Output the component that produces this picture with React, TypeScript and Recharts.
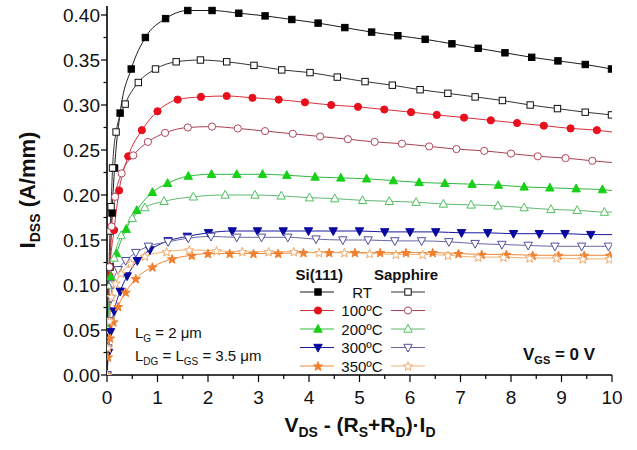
import React from "react";
import { LineChart, Line, XAxis, YAxis } from "recharts";

type Pt = [number, number];

// I_DSS vs V_DS - (Rs+Rd)*Id, Si(111) (filled) and sapphire (open)
const siRT: Pt[] = [[0, 0], [0.03, 0.06], [0.06, 0.12], [0.1, 0.18], [0.15, 0.23], [0.26, 0.291], [0.48, 0.34], [0.76, 0.375], [1.16, 0.396], [1.6, 0.405], [2.08, 0.405], [2.61, 0.402], [3.13, 0.399], [3.66, 0.395], [4.18, 0.391], [4.71, 0.386], [5.24, 0.381], [5.76, 0.377], [6.3, 0.373], [6.83, 0.368], [7.35, 0.363], [7.88, 0.358], [8.41, 0.353], [8.93, 0.349], [9.47, 0.345], [9.99, 0.34]];
const saRT: Pt[] = [[0, 0], [0.02, 0.06], [0.04, 0.12], [0.06, 0.16], [0.08, 0.187], [0.11, 0.23], [0.18, 0.27], [0.36, 0.301], [0.62, 0.325], [0.96, 0.34], [1.37, 0.348], [1.85, 0.35], [2.37, 0.348], [2.91, 0.344], [3.46, 0.339], [4.02, 0.336], [4.56, 0.331], [5.11, 0.326], [5.65, 0.322], [6.2, 0.317], [6.75, 0.313], [7.29, 0.309], [7.83, 0.305], [8.38, 0.3], [8.92, 0.296], [9.47, 0.292], [9.99, 0.289]];
const si100: Pt[] = [[0, 0], [0.02, 0.05], [0.05, 0.11], [0.14, 0.161], [0.24, 0.205], [0.42, 0.243], [0.69, 0.272], [1.0, 0.293], [1.4, 0.306], [1.86, 0.309], [2.37, 0.31], [2.88, 0.308], [3.4, 0.306], [3.92, 0.303], [4.44, 0.3], [4.97, 0.298], [5.49, 0.295], [6.02, 0.292], [6.53, 0.289], [7.07, 0.286], [7.6, 0.283], [8.12, 0.28], [8.65, 0.277], [9.18, 0.274], [9.7, 0.272], [10, 0.27]];
const sa100: Pt[] = [[0, 0], [0.02, 0.06], [0.05, 0.12], [0.09, 0.165], [0.16, 0.198], [0.29, 0.224], [0.52, 0.244], [0.81, 0.259], [1.15, 0.269], [1.6, 0.275], [2.08, 0.276], [2.59, 0.274], [3.13, 0.271], [3.68, 0.268], [4.22, 0.265], [4.77, 0.262], [5.3, 0.259], [5.84, 0.257], [6.38, 0.254], [6.92, 0.251], [7.47, 0.249], [8.0, 0.246], [8.53, 0.243], [9.08, 0.241], [9.61, 0.238], [10, 0.236]];
const si200: Pt[] = [[0, 0], [0.02, 0.05], [0.07, 0.109], [0.19, 0.135], [0.38, 0.162], [0.59, 0.183], [0.9, 0.203], [1.2, 0.213], [1.61, 0.221], [2.07, 0.223], [2.57, 0.223], [3.08, 0.223], [3.56, 0.222], [4.12, 0.22], [4.63, 0.219], [5.14, 0.218], [5.67, 0.216], [6.18, 0.214], [6.69, 0.213], [7.23, 0.212], [7.75, 0.211], [8.26, 0.209], [8.77, 0.208], [9.29, 0.207], [9.81, 0.206], [10, 0.205]];
const sa200: Pt[] = [[0, 0], [0.02, 0.05], [0.06, 0.1], [0.14, 0.13], [0.28, 0.155], [0.5, 0.174], [0.75, 0.186], [1.13, 0.193], [1.71, 0.198], [2.34, 0.2], [2.93, 0.2], [3.45, 0.199], [4.01, 0.197], [4.51, 0.196], [5.06, 0.194], [5.59, 0.193], [6.12, 0.192], [6.66, 0.19], [7.21, 0.189], [7.74, 0.188], [8.26, 0.186], [8.79, 0.184], [9.31, 0.183], [9.85, 0.181], [10, 0.181]];
const si300: Pt[] = [[0, 0], [0.03, 0.025], [0.07, 0.048], [0.14, 0.071], [0.26, 0.093], [0.4, 0.11], [0.6, 0.127], [0.85, 0.139], [1.21, 0.149], [1.59, 0.154], [2.01, 0.158], [2.48, 0.16], [2.98, 0.16], [3.49, 0.16], [3.99, 0.16], [4.48, 0.16], [5.0, 0.16], [5.5, 0.159], [6.0, 0.159], [6.51, 0.159], [7.02, 0.158], [7.54, 0.158], [8.05, 0.157], [8.56, 0.157], [9.07, 0.157], [9.58, 0.156], [10, 0.156]];
const sa300: Pt[] = [[0, 0], [0.02, 0.03], [0.05, 0.06], [0.08, 0.085], [0.11, 0.101], [0.22, 0.117], [0.37, 0.127], [0.57, 0.136], [0.82, 0.143], [1.21, 0.148], [1.61, 0.152], [2.06, 0.154], [2.57, 0.153], [3.06, 0.153], [3.58, 0.153], [4.14, 0.151], [4.67, 0.15], [5.17, 0.15], [5.7, 0.149], [6.23, 0.149], [6.77, 0.148], [7.29, 0.146], [7.82, 0.145], [8.34, 0.144], [8.87, 0.143], [9.4, 0.143], [9.93, 0.143]];
const si350: Pt[] = [[0, 0], [0.02, 0.02], [0.06, 0.041], [0.125, 0.059], [0.22, 0.076], [0.37, 0.092], [0.57, 0.107], [0.9, 0.12], [1.29, 0.129], [1.68, 0.133], [2.0, 0.135], [2.43, 0.135], [2.9, 0.135], [3.39, 0.135], [3.89, 0.136], [4.4, 0.136], [4.91, 0.136], [5.41, 0.136], [5.92, 0.136], [6.45, 0.136], [6.96, 0.135], [7.42, 0.134], [7.91, 0.134], [8.43, 0.133], [8.94, 0.133], [9.45, 0.133], [9.96, 0.133]];
const sa350: Pt[] = [[0, 0], [0.02, 0.03], [0.05, 0.06], [0.09, 0.087], [0.17, 0.102], [0.28, 0.113], [0.47, 0.124], [0.75, 0.132], [1.18, 0.137], [1.63, 0.139], [2.17, 0.138], [2.68, 0.137], [3.2, 0.137], [3.7, 0.137], [4.2, 0.136], [4.7, 0.136], [5.2, 0.135], [5.72, 0.134], [6.25, 0.134], [6.75, 0.133], [7.35, 0.131], [7.85, 0.131], [8.37, 0.13], [8.9, 0.13], [9.42, 0.129], [9.95, 0.129]];

const tempLabels = ["RT", "100ºC", "200ºC", "300ºC", "350ºC"];
const xTicks = [0, 0.5, 1, 1.5, 2, 2.5, 3, 3.5, 4, 4.5, 5, 5.5, 6, 6.5, 7, 7.5, 8, 8.5, 9, 9.5, 10];
const yTicks = [0, 0.025, 0.05, 0.075, 0.1, 0.125, 0.15, 0.175, 0.2, 0.225, 0.25, 0.275, 0.3, 0.325, 0.35, 0.375, 0.4];

const FONT = "'Liberation Sans', Arial, Helvetica, sans-serif";

type Shape = "square" | "circle" | "up" | "down" | "star";

interface Series {
  key: string;
  pts: Pt[];
  shape: Shape;
  open: boolean;
  color: string;
  line: string;
}

const series: Series[] = [
  { key: "siRT", pts: siRT, shape: "square", open: false, color: "#000000", line: "#1a1a1a" },
  { key: "saRT", pts: saRT, shape: "square", open: true, color: "#111111", line: "#333333" },
  { key: "si100", pts: si100, shape: "circle", open: false, color: "#e8101c", line: "#d8303a" },
  { key: "sa100", pts: sa100, shape: "circle", open: true, color: "#b04858", line: "#a84050" },
  { key: "si200", pts: si200, shape: "up", open: false, color: "#18d018", line: "#30b840" },
  { key: "sa200", pts: sa200, shape: "up", open: true, color: "#50c060", line: "#60b870" },
  { key: "si300", pts: si300, shape: "down", open: false, color: "#0808a0", line: "#1818a0" },
  { key: "sa300", pts: sa300, shape: "down", open: true, color: "#5050a0", line: "#6868a8" },
  { key: "si350", pts: si350, shape: "star", open: false, color: "#f08030", line: "#f08838" },
  { key: "sa350", pts: sa350, shape: "star", open: true, color: "#f0a868", line: "#f0b070" },
];

function starPoints(cx: number, cy: number, ro: number, ri: number) {
  const p: string[] = [];
  for (let i = 0; i < 10; i++) {
    const r = i % 2 === 0 ? ro : ri;
    const a = -Math.PI / 2 + (i * Math.PI) / 5;
    p.push(`${cx + r * Math.cos(a)},${cy + r * Math.sin(a)}`);
  }
  return p.join(" ");
}

function Marker({ cx, cy, shape, open, color }: { cx: number; cy: number; shape: Shape; open: boolean; color: string }) {
  const fill = open ? "#ffffff" : color;
  const sw = 1;
  switch (shape) {
    case "square":
      return <rect x={cx - 3.2} y={cy - 3.2} width={6.4} height={6.4} fill={fill} stroke={color} strokeWidth={sw} />;
    case "circle":
      return <circle cx={cx} cy={cy} r={3.6} fill={fill} stroke={color} strokeWidth={sw} />;
    case "up":
      return <polygon points={`${cx},${cy - 4.6} ${cx - 4.2},${cy + 3.2} ${cx + 4.2},${cy + 3.2}`} fill={fill} stroke={color} strokeWidth={sw} />;
    case "down":
      return <polygon points={`${cx},${cy + 4.6} ${cx - 4.2},${cy - 3.2} ${cx + 4.2},${cy - 3.2}`} fill={fill} stroke={color} strokeWidth={sw} />;
    default:
      return <polygon points={starPoints(cx, cy + 0.5, 4.8, 2)} fill={fill} stroke={color} strokeWidth={sw} />;
  }
}

const isWhole = (v: number, step: number) => Math.abs(v / step - Math.round(v / step)) < 1e-6;

function BottomTick(props: any) {
  const { x, y, payload } = props;
  const major = isWhole(payload.value, 1);
  return (
    <g>
      <line x1={x} x2={x} y1={y} y2={y + (major ? 7 : 4)} stroke="#000" strokeWidth={1.2} />
      {major && (
        <text x={x} y={y + 29} textAnchor="middle" fontSize={19} fontFamily={FONT} fill="#111">
          {payload.value}
        </text>
      )}
    </g>
  );
}

function TopTick(props: any) {
  const { x, y, payload } = props;
  const major = isWhole(payload.value, 1);
  return <line x1={x} x2={x} y1={y} y2={y + (major ? 7 : 4)} stroke="#000" strokeWidth={1.2} />;
}

function LeftTick(props: any) {
  const { x, y, payload } = props;
  const major = isWhole(payload.value, 0.05);
  return (
    <g>
      <line x1={x - (major ? 6 : 3.5)} x2={x} y1={y} y2={y} stroke="#000" strokeWidth={1.2} />
      {major && (
        <text x={x - 7} y={y + 6.8} textAnchor="end" fontSize={19} fontFamily={FONT} fill="#111">
          {payload.value.toFixed(2)}
        </text>
      )}
    </g>
  );
}

function RightTick(props: any) {
  const { x, y, payload } = props;
  const major = isWhole(payload.value, 0.05);
  return <line x1={x - (major ? 7 : 4)} x2={x} y1={y} y2={y} stroke="#000" strokeWidth={1.2} />;
}

export default function App() {
  const rows = [0, 1, 2, 3, 4];
  return (
    <div style={{ position: "absolute", left: 0, top: 0, width: 637, height: 450, background: "#fff" }}>
      <LineChart width={637} height={450} margin={{ top: 6, right: 25, left: 0, bottom: 0 }}>
        <XAxis
          dataKey="x"
          type="number"
          domain={[0, 10]}
          ticks={xTicks}
          interval={0}
          allowDataOverflow
          height={75}
          tickSize={0}
          tickMargin={0}
          tickLine={false}
          tick={<BottomTick />}
          axisLine={{ stroke: "#000", strokeWidth: 1.6 }}
        />
        <XAxis
          xAxisId="top"
          orientation="top"
          dataKey="x"
          type="number"
          domain={[0, 10]}
          ticks={xTicks}
          interval={0}
          allowDataOverflow
          height={0}
          tickSize={0}
          tickMargin={0}
          tickLine={false}
          tick={<TopTick />}
          axisLine={{ stroke: "#000", strokeWidth: 1.6 }}
        />
        <YAxis
          type="number"
          domain={[0, 0.41]}
          ticks={yTicks}
          interval={0}
          allowDataOverflow
          width={107}
          tickSize={0}
          tickMargin={0}
          tickLine={false}
          tick={<LeftTick />}
          axisLine={{ stroke: "#000", strokeWidth: 1.6 }}
        />
        <YAxis
          yAxisId="right"
          orientation="right"
          type="number"
          domain={[0, 0.41]}
          ticks={yTicks}
          interval={0}
          allowDataOverflow
          width={0}
          tickSize={0}
          tickMargin={0}
          tickLine={false}
          tick={<RightTick />}
          axisLine={{ stroke: "#000", strokeWidth: 1.6 }}
        />
        {series.map((s) => (
          <Line
            key={s.key}
            data={s.pts.map(([x, y]) => ({ x, y }))}
            dataKey="y"
            type="monotone"
            stroke={s.line}
            strokeWidth={1}
            isAnimationActive={false}
            activeDot={false}
            dot={(p: any) =>
              p.payload.x >= 10 ? (
                <g key={`${s.key}-${p.index}`} />
              ) : (
                <g key={`${s.key}-${p.index}`}>
                  <Marker cx={p.cx} cy={p.cy} shape={s.shape} open={s.open} color={s.color} />
                </g>
              )
            }
          />
        ))}
      </LineChart>

      <svg
        width={637}
        height={450}
        style={{ position: "absolute", left: 0, top: 0, pointerEvents: "none" }}
        fontFamily={FONT}
      >
        {/* legend */}
        <text x={343} y={280} textAnchor="end" fontSize={15} fontWeight="bold" fill="#111">Si(111)</text>
        <text x={374} y={280} fontSize={15} fontWeight="bold" fill="#111">Sapphire</text>
        {rows.map((i) => {
          const y = 292 + i * 18.5;
          const a = series[i * 2];
          const b = series[i * 2 + 1];
          return (
            <g key={i}>
              <line x1={300} x2={334} y1={y} y2={y} stroke={a.line} strokeWidth={1} />
              <Marker cx={318} cy={y} shape={a.shape} open={false} color={a.color} />
              <text x={362} y={y + 5.5} textAnchor="middle" fontSize={15} fill="#111">{tempLabels[i]}</text>
              <line x1={391} x2={425} y1={y} y2={y} stroke={b.line} strokeWidth={1} />
              <Marker cx={408} cy={y} shape={b.shape} open color={b.color} />
            </g>
          );
        })}

        {/* annotations */}
        <text x={135} y={338} fontSize={15} fill="#111">
          L<tspan fontSize={10} dy={4}>G</tspan>
          <tspan dy={-4}> = 2 μm</tspan>
        </text>
        <text x={135} y={361} fontSize={15} fill="#111">
          L<tspan fontSize={10} dy={4}>DG</tspan>
          <tspan dy={-4}> = L</tspan>
          <tspan fontSize={10} dy={4}>GS</tspan>
          <tspan dy={-4}> = 3.5 μm</tspan>
        </text>
        <text x={523} y={360} fontSize={17} fontWeight="bold" fill="#111">
          V<tspan fontSize={11} dy={4}>GS</tspan>
          <tspan dy={-4}> = 0 V</tspan>
        </text>

        {/* axis titles */}
        <text x={360} y={432} textAnchor="middle" fontSize={21} fontWeight="bold" fill="#111">
          V<tspan fontSize={14} dy={5}>DS</tspan>
          <tspan dy={-5}> - (R</tspan>
          <tspan fontSize={14} dy={5}>S</tspan>
          <tspan dy={-5}>+R</tspan>
          <tspan fontSize={14} dy={5}>D</tspan>
          <tspan dy={-5}>)·I</tspan>
          <tspan fontSize={14} dy={5}>D</tspan>
        </text>
        <text transform="translate(35,190) rotate(-90)" textAnchor="middle" fontSize={22} fontWeight="bold" fill="#111">
          I<tspan fontSize={14} dy={5}>DSS</tspan>
          <tspan dy={-5}> (A/mm)</tspan>
        </text>
      </svg>
    </div>
  );
}
